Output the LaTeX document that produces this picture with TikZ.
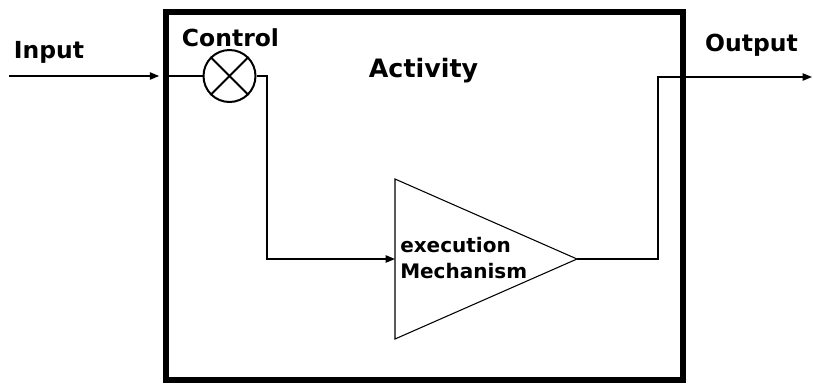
\documentclass[tikz,border=0pt]{standalone}
\usepackage{fontspec}
\setmainfont{DejaVu Sans}
\usetikzlibrary{arrows.meta}

\begin{document}
\begin{tikzpicture}[
  x=0.75pt, y=-0.75pt,
  lbl/.style={font=\fontsize{17.6}{21}\selectfont\bfseries, inner sep=0pt, anchor=base},
  actbox/.style={draw, line width=4.5pt, minimum width=387.75pt, minimum height=276pt, inner sep=0pt},
  mixer/.style={draw, circle, line width=1.5pt, minimum size=39pt, inner sep=0pt},
  wire/.style={line width=1pt},
  arr/.style={wire, -{Triangle[length=7pt, width=5.5pt]}}
]
\useasboundingbox (0,0) rectangle (813,383);
% ---- activity box ----
\node[actbox] (act) at (424,196) {};
\node[lbl, font=\fontsize{19}{23}\selectfont\bfseries] (actlbl) at (423.5,77) {Activity};
% ---- labels outside ----
\node[lbl] (inlbl) at (49,58) {Input};
\node[lbl] (outlbl) at (751.5,51) {Output};
% ---- control (mixer) ----
\node[lbl] (ctrllbl) at (230.5,46) {Control};
\node[mixer] (ctrl) at (229.5,76) {};
\draw[line width=1.5pt] (ctrl.45) -- (ctrl.225) (ctrl.135) -- (ctrl.315);
% ---- execution mechanism (triangle) ----
\coordinate (tri-w) at (395,259);
\coordinate (tri-e) at (577,259);
\draw[line width=0.8pt] (395,179) -- (tri-e) -- (395,339) -- cycle;
\node[font=\fontsize{15}{19.5}\selectfont\bfseries, align=left, inner sep=0pt,
      anchor=base west] (mech) at (400,278) {execution\\Mechanism};
% ---- connectors ----
\coordinate (in) at (9,76);
\coordinate (bend1) at (267,259);
\coordinate (bend2) at (658,77);
\coordinate (out) at (812,77);
\draw[arr] (in) -- ([xshift=-2.5pt]act.west |- ctrl.west);
\draw[wire] (act.west |- ctrl.west) -- (ctrl.west);
\draw[arr] (ctrl.east) -| (bend1) -- (tri-w);
\draw[arr] (tri-e) -| (bend2) -- (out);
\end{tikzpicture}
\end{document}
